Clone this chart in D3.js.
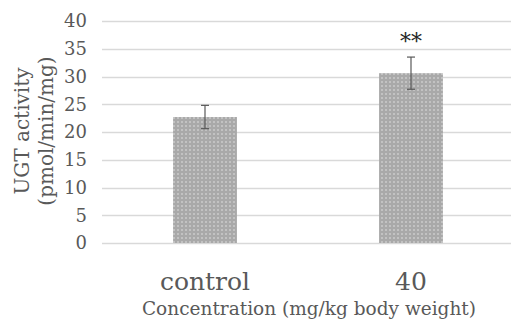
<!DOCTYPE html>
<html>
<head>
<meta charset="utf-8">
<script src="https://cdn.jsdelivr.net/npm/d3@7"></script>
<style>
  body { margin: 0; background: #fff; }
  text { font-family: "DejaVu Serif", serif; }
</style>
</head>
<body>
<svg id="chart" width="511" height="326"></svg>
<script>
//data
var categories = ["control", "40"];
var means = [22.7, 30.6];
var errors = [2.1, 2.9];
var marks = ["", "**"];
var y_ticks = [0, 5, 10, 15, 20, 25, 30, 35, 40];

var svg = d3.select("#chart");
var width = 511, height = 326;
var margin = {top: 21, right: -3, bottom: 83, left: 102};

//scales
var x_scale = d3.scaleBand()
    .domain(categories)
    .range([margin.left, width - margin.right])
    .paddingInner(0.69)
    .paddingOuter(0.345);

var y_scale = d3.scaleLinear()
    .domain([0, 40])
    .range([height - margin.bottom, margin.top]);

//dotted fill like the office chart pattern
var pat = svg.append("defs").append("pattern")
    .attr("id", "dots")
    .attr("patternUnits", "userSpaceOnUse")
    .attr("width", 4)
    .attr("height", 4);
pat.append("rect").attr("width", 4).attr("height", 4).attr("fill", "#a9a9a9");
pat.append("rect").attr("x", 1).attr("y", 1).attr("width", 2).attr("height", 2).attr("fill", "#d4d4d4");
pat.append("rect").attr("x", 1.5).attr("y", 1.5).attr("width", 1).attr("height", 1).attr("fill", "#8c8c8c");

//gridlines
svg.append("g").selectAll("line")
    .data(y_ticks)
    .enter().append("line")
    .attr("x1", margin.left)
    .attr("x2", width)
    .attr("y1", d => Math.round(y_scale(d)) + 0.5)
    .attr("y2", d => Math.round(y_scale(d)) + 0.5)
    .attr("stroke", "#d9d9d9")
    .attr("stroke-width", 1.3);

//y axis labels
var y_axis = d3.axisLeft(y_scale).tickValues(y_ticks).tickSize(0).tickPadding(0);
var y_g = svg.append("g")
    .attr("transform", "translate(" + (margin.left - 15) + ",0)")
    .call(y_axis);
y_g.select(".domain").remove();
y_g.selectAll("text")
    .attr("font-family", "DejaVu Serif")
    .attr("font-size", 18)
    .attr("fill", "#595959");

//bars
svg.append("g").selectAll("rect")
    .data(categories)
    .enter().append("rect")
    .attr("x", d => x_scale(d))
    .attr("y", (d, i) => y_scale(means[i]))
    .attr("width", x_scale.bandwidth())
    .attr("height", (d, i) => y_scale(0) - y_scale(means[i]))
    .attr("fill", "url(#dots)");

//error bars
var err = svg.append("g").attr("stroke", "#595959").attr("stroke-width", 1.2);
categories.forEach(function(c, i) {
    var cx = x_scale(c) + x_scale.bandwidth() / 2;
    var y_hi = y_scale(means[i] + errors[i]);
    var y_lo = y_scale(means[i] - errors[i]);
    err.append("line").attr("x1", cx).attr("x2", cx).attr("y1", y_hi).attr("y2", y_lo);
    err.append("line").attr("x1", cx - 4).attr("x2", cx + 4).attr("y1", y_hi).attr("y2", y_hi);
    err.append("line").attr("x1", cx - 4).attr("x2", cx + 4).attr("y1", y_lo).attr("y2", y_lo);
});

//significance marks
svg.append("g").selectAll("text")
    .data(categories)
    .enter().append("text")
    .attr("x", d => x_scale(d) + x_scale.bandwidth() / 2)
    .attr("y", (d, i) => y_scale(means[i] + errors[i]) - 8)
    .attr("text-anchor", "middle")
    .attr("font-family", "DejaVu Sans")
    .attr("font-size", 22)
    .attr("fill", "#262626")
    .text((d, i) => marks[i]);

//category labels
svg.append("g").selectAll("text")
    .data(categories)
    .enter().append("text")
    .attr("x", d => x_scale(d) + x_scale.bandwidth() / 2)
    .attr("y", 290)
    .attr("text-anchor", "middle")
    .attr("font-size", 25)
    .attr("fill", "#595959")
    .text(d => d);

//axis titles
svg.append("text")
    .attr("x", 309)
    .attr("y", 315)
    .attr("text-anchor", "middle")
    .attr("font-size", 18.5)
    .attr("fill", "#595959")
    .text("Concentration (mg/kg body weight)");

var y_title = svg.append("text")
    .attr("transform", "translate(0,131) rotate(-90)")
    .attr("text-anchor", "middle")
    .attr("font-size", 20)
    .attr("fill", "#595959");
y_title.append("tspan").attr("x", 0).attr("y", 29).text("UGT activity");
y_title.append("tspan").attr("x", 0).attr("y", 53).text("(pmol/min/mg)");
</script>
</body>
</html>
